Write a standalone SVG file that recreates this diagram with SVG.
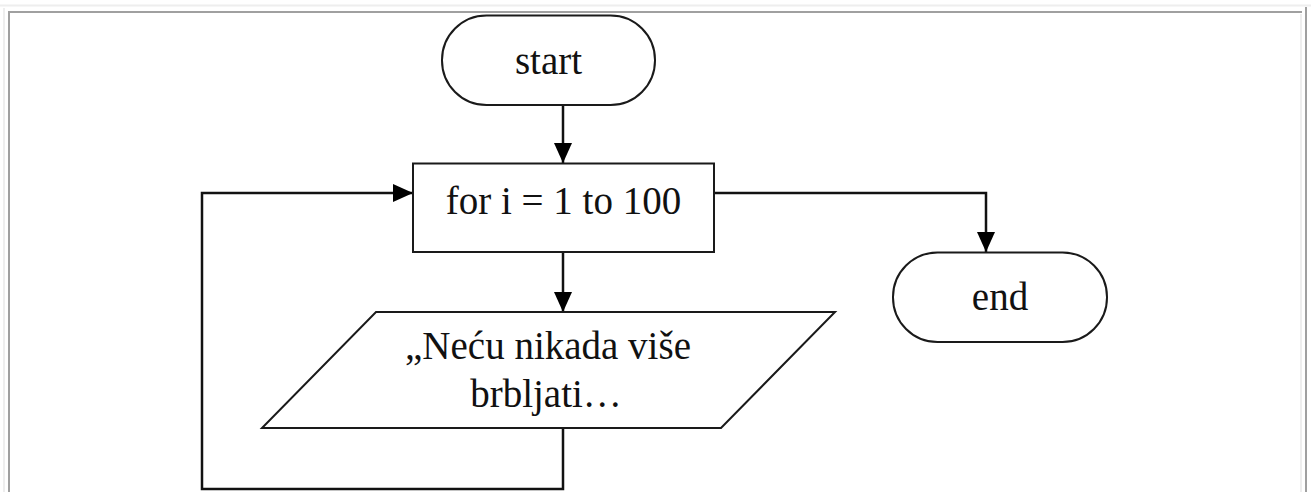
<svg xmlns="http://www.w3.org/2000/svg" width="1311" height="492" viewBox="0 0 1311 492">
  <style>
    .shape { fill: #ffffff; stroke: #1a1a1a; stroke-width: 2; }
    .label { font-family: "Liberation Serif", "Times New Roman", serif; font-size: 39px; fill: #111111; text-anchor: middle; }
    .conn { fill: none; stroke: #111111; stroke-width: 2.5; }
  </style>
  <defs>
    <marker id="arrow" markerUnits="userSpaceOnUse" markerWidth="20" markerHeight="18" refX="20" refY="9" orient="auto">
      <path d="M0,0 L20,9 L0,18 Z" fill="#000000"/>
    </marker>
  </defs>
  <rect x="0" y="0" width="1311" height="492" fill="#ffffff"/>
  <g id="frame">
    <line x1="0" y1="5.5" x2="1311" y2="5.5" stroke="#eeeeee" stroke-width="2"/>
    <line x1="4" y1="8" x2="4" y2="492" stroke="#eeeeee" stroke-width="2"/>
    <line x1="8" y1="12" x2="1302" y2="12" stroke="#a0a0a0" stroke-width="2"/>
    <line x1="9" y1="12" x2="9" y2="492" stroke="#a0a0a0" stroke-width="2"/>
    <line x1="1301" y1="14" x2="1301" y2="492" stroke="#eeeeee" stroke-width="2"/>
    <line x1="1306" y1="7" x2="1306" y2="492" stroke="#a0a0a0" stroke-width="2"/>
  </g>
  <g id="connectors">
    <path class="conn" d="M563,105 L563,163" marker-end="url(#arrow)"/>
    <path class="conn" d="M563,252 L563,312" marker-end="url(#arrow)"/>
    <path class="conn" d="M714,193 L986,193 L986,252" marker-end="url(#arrow)"/>
    <path class="conn" d="M563,428 L563,489 L202,489 L202,193 L413,193" marker-end="url(#arrow)"/>
  </g>
  <g id="start">
    <rect class="shape" x="442" y="15.5" width="213" height="89.5" rx="44.5" ry="44.5"/>
    <text class="label" x="548.5" y="74">start</text>
  </g>
  <g id="loop">
    <rect class="shape" x="413" y="163.5" width="301" height="88.5"/>
    <text class="label" x="563.5" y="214">for i = 1 to 100</text>
  </g>
  <g id="output">
    <polygon class="shape" points="376,312 835,312 721,428 262,428"/>
    <text class="label" x="548" y="359">„Neću nikada više</text>
    <text class="label" x="546" y="407">brbljati…</text>
  </g>
  <g id="end">
    <rect class="shape" x="893" y="252.5" width="214" height="89.5" rx="44.5" ry="44.5"/>
    <text class="label" x="1000" y="310">end</text>
  </g>
</svg>
